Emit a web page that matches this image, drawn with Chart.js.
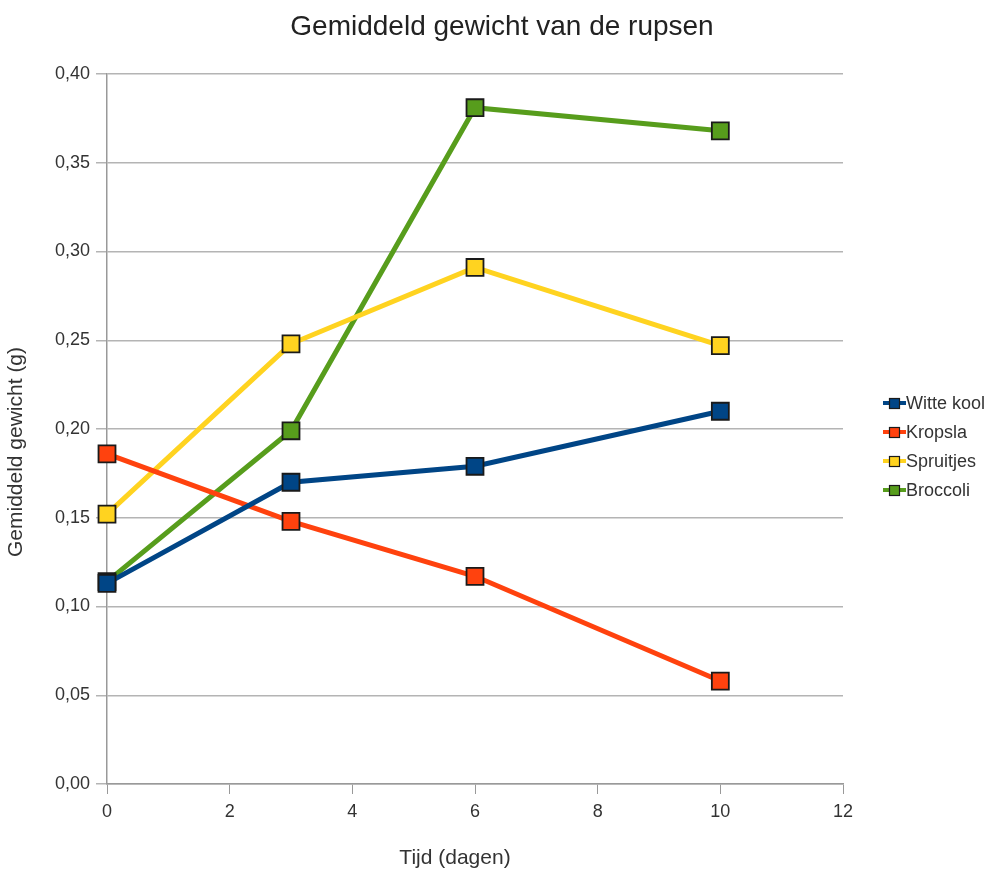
<!DOCTYPE html>
<html>
<head>
<meta charset="utf-8">
<script src="https://cdn.jsdelivr.net/npm/chart.js@4/dist/chart.umd.min.js"></script>
<style>
  html, body { margin: 0; padding: 0; background: #fff; }
  #wrap { width: 991px; height: 875px; }
</style>
</head>
<body>
<div id="wrap"><canvas id="chart" width="991" height="875"></canvas></div>
<script>
/* data */
const days = [0, 3, 6, 10];
const witteKool = [0.113, 0.170, 0.179, 0.210];
const kropsla = [0.186, 0.148, 0.117, 0.058];
const spruitjes = [0.152, 0.248, 0.291, 0.247];
const broccoli = [0.114, 0.199, 0.381, 0.368];
const seriesNames = ['Witte kool', 'Kropsla', 'Spruitjes', 'Broccoli'];
const seriesColors = ['#004586', '#ff420e', '#ffd320', '#579d1c'];
const xTicks = [0, 2, 4, 6, 8, 10, 12];
const yTicks = [0, 0.05, 0.10, 0.15, 0.20, 0.25, 0.30, 0.35, 0.40];

const chartTitle = 'Gemiddeld gewicht van de rupsen';
const xTitle = 'Tijd (dagen)';
const yTitle = 'Gemiddeld gewicht (g)';

const FONT = "'Liberation Sans', Arial, sans-serif";
const TEXT = '#333333';

function makeSet(name, values, color) {
  return {
    label: name,
    data: days.map((d, i) => ({ x: d, y: values[i] })),
    borderColor: color,
    backgroundColor: color,
    borderWidth: 5,
    pointStyle: 'rect',
    pointRadius: 12,
    pointBorderColor: '#1a1a1a',
    pointBorderWidth: 1.8,
    pointBackgroundColor: color,
    tension: 0,
    clip: false,
  };
}

/* titles placed like in the office-suite export (not centred on plot area) */
const titles = {
  id: 'titles',
  afterDraw(chart) {
    const ctx = chart.ctx;
    ctx.save();
    ctx.textAlign = 'center';
    ctx.textBaseline = 'middle';
    ctx.fillStyle = '#222';
    ctx.font = '28px ' + FONT;
    ctx.fillText(chartTitle, 502, 27);
    ctx.fillStyle = TEXT;
    ctx.font = '21px ' + FONT;
    ctx.fillText(xTitle, 455, 858);
    ctx.translate(16, 452);
    ctx.rotate(-Math.PI / 2);
    ctx.fillText(yTitle, 0, 0);
    ctx.restore();
  }
};

/* legend on the right: short line + square, then the name */
const sideLegend = {
  id: 'sideLegend',
  afterDraw(chart) {
    const ctx = chart.ctx;
    const top = 403, step = 29;
    ctx.save();
    ctx.font = '18px ' + FONT;
    ctx.textBaseline = 'middle';
    chart.data.datasets.forEach((ds, i) => {
      const y = top + i * step;
      ctx.strokeStyle = ds.borderColor;
      ctx.lineWidth = 4;
      ctx.beginPath();
      ctx.moveTo(883, y);
      ctx.lineTo(906, y);
      ctx.stroke();
      ctx.fillStyle = ds.borderColor;
      ctx.fillRect(889, y - 5, 11, 11);
      ctx.strokeStyle = '#1a1a1a';
      ctx.lineWidth = 1.2;
      ctx.strokeRect(889.5, y - 4.5, 10, 10);
      ctx.fillStyle = TEXT;
      ctx.fillText(ds.label, 906, y + 1);
    });
    ctx.restore();
  }
};

new Chart(document.getElementById('chart'), {
  type: 'line',
  data: {
    datasets: [
      makeSet(seriesNames[0], witteKool, seriesColors[0]),
      makeSet(seriesNames[1], kropsla, seriesColors[1]),
      makeSet(seriesNames[2], spruitjes, seriesColors[2]),
      makeSet(seriesNames[3], broccoli, seriesColors[3]),
    ]
  },
  options: {
    responsive: false,
    animation: false,
    layout: { padding: { left: 10, right: 148, top: 74, bottom: 0 } },
    plugins: {
      legend: { display: false },
      tooltip: { enabled: false },
      title: { display: false }
    },
    scales: {
      x: {
        type: 'linear',
        min: 0,
        max: 12,
        afterBuildTicks: (s) => { s.ticks = xTicks.map(v => ({ value: v })); },
        afterFit: (s) => { s.height = 91; },
        ticks: { color: TEXT, font: { family: FONT, size: 18 }, padding: 7, maxRotation: 0 },
        grid: { drawOnChartArea: false, drawTicks: true, tickLength: 10, color: '#999' },
        border: { color: '#999', width: 1.5 }
      },
      y: {
        min: 0,
        max: 0.4,
        afterBuildTicks: (s) => { s.ticks = yTicks.map(v => ({ value: v })); },
        afterFit: (s) => { s.width = 97; },
        ticks: {
          color: TEXT,
          font: { family: FONT, size: 18 },
          padding: 6,
          callback: (v) => v.toFixed(2).replace('.', ',')
        },
        grid: { color: '#b4b4b4', tickLength: 11, lineWidth: 1.5 },
        border: { color: '#999', width: 1.5 }
      }
    }
  },
  plugins: [titles, sideLegend]
});
</script>
</body>
</html>
